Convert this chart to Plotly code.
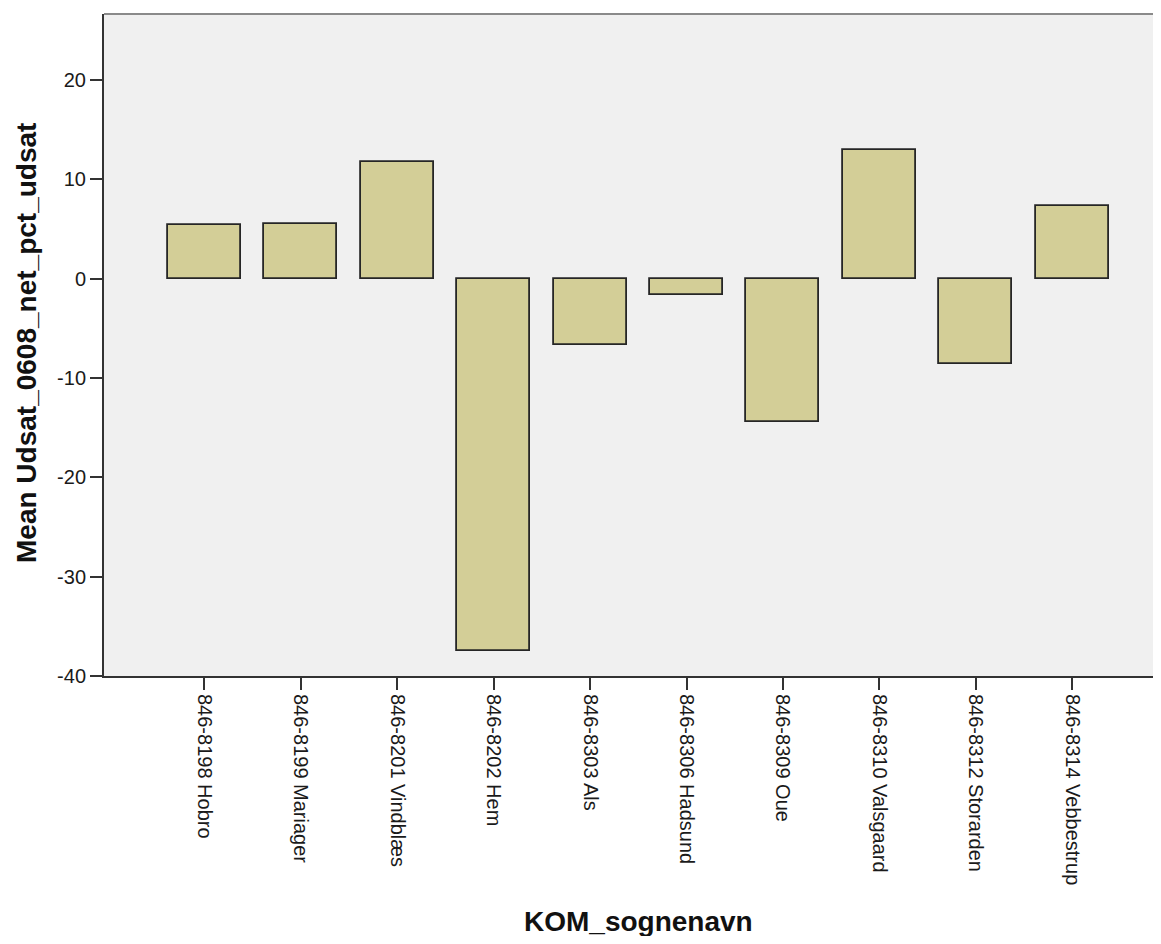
import plotly.graph_objects as go

categories = ["846-8198 Hobro", "846-8199 Mariager", "846-8201 Vindblæs", "846-8202 Hem",
              "846-8303 Als", "846-8306 Hadsund", "846-8309 Oue", "846-8310 Valsgaard",
              "846-8312 Storarden", "846-8314 Vebbestrup"]
values = [5.4, 5.5, 11.8, -37.5, -6.7, -1.6, -14.4, 13.0, -8.6, 7.3]
y_ticks = [-40, -30, -20, -10, 0, 10, 20]

OFF = 8  # page body margin
W, H = 1161 - OFF, 944 - 2 * OFF
L, R, T = 104 - OFF, 0, 14 - OFF
B = H - (676 - OFF)
pw = W - L - R
ph = H - T - B

fig = go.Figure()
fig.add_trace(go.Bar(
    x=categories, y=values, width=0.757,
    marker=dict(color="#d3ce97", line=dict(color="#262626", width=1.8)),
    hoverinfo="x+y",
))

font_family = "Liberation Sans, Arial, sans-serif"
fig.update_layout(
    width=W, height=H,
    margin=dict(l=L, r=R, t=T, b=B, pad=0),
    paper_bgcolor="white", plot_bgcolor="#f0f0f0",
    showlegend=False,
    font=dict(family=font_family, color="#1a1a1a"),
    bargap=0,
)
fig.update_xaxes(
    type="category", range=[-1.04, 9.92],
    showgrid=False, zeroline=False,
    showline=True, linecolor="#333333", linewidth=2,
    ticks="outside", ticklen=12, tickwidth=2, tickcolor="#333333",
    tickangle=90, tickfont=dict(size=20, family=font_family, color="#1a1a1a"),
)
fig.update_yaxes(
    range=[-40, 26.65], tickvals=y_ticks, ticktext=[str(v) for v in y_ticks],
    showgrid=False, zeroline=False,
    showline=True, linecolor="#333333", linewidth=2,
    ticks="outside", ticklen=12, tickwidth=2, tickcolor="#333333",
    tickfont=dict(size=20, family=font_family, color="#1a1a1a"),
)
# top border
fig.add_shape(type="line", xref="paper", yref="paper", x0=0, x1=1, y0=1, y1=1,
              line=dict(color="#8a8a8a", width=2))
# axis titles (positions in page pixels converted to paper coords)
fig.add_annotation(text="<b>KOM_sognenavn</b>", xref="paper", yref="paper",
                   x=(638 - OFF - L) / pw, y=(H - B - (921 - OFF)) / ph,
                   xanchor="center", yanchor="middle",
                   showarrow=False, font=dict(size=28, family=font_family, color="#111111"))
fig.add_annotation(text="<b>Mean Udsat_0608_net_pct_udsat</b>", xref="paper", yref="paper",
                   x=(26 - OFF - L) / pw, y=(H - B - (343 - OFF)) / ph,
                   xanchor="center", yanchor="middle",
                   textangle=-90, showarrow=False,
                   font=dict(size=28, family=font_family, color="#111111"))

fig.write_html("out.html")
